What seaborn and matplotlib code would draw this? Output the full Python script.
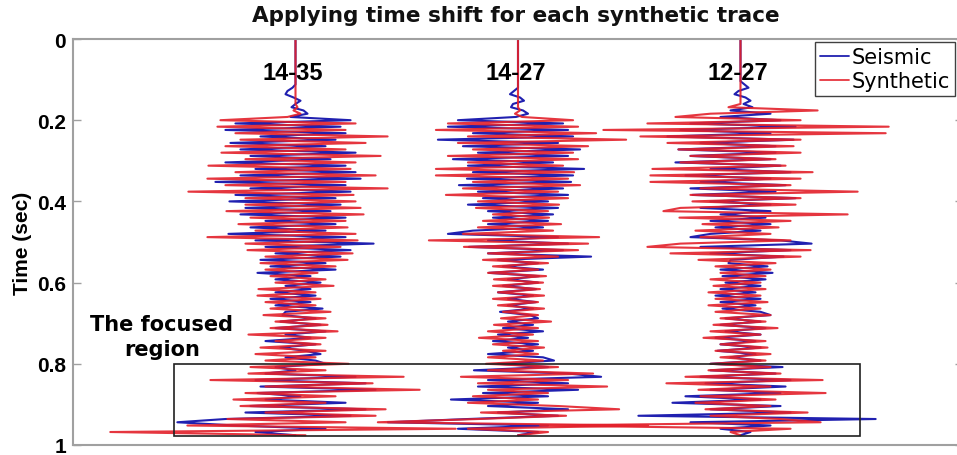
import numpy as np
import pandas as pd
import matplotlib
matplotlib.use("Agg")
import matplotlib.pyplot as plt
from matplotlib.patches import Rectangle
import seaborn as sns

# Well names of the three tie locations (left to right)
wells = ["14-35", "14-27", "12-27"]
series_names = ["Seismic", "Synthetic"]

# Regular sample grid: first sample time and interval (s)
t_start = 0.104
t_step = 0.008

# Trace amplitudes (arbitrary units), one value per sample
seismic_14_35 = [
    0, 0, -0.03, -0.08, -0.1, -0.02, 0.05, 0.0, -0.04, 0.08, 0.12, -0.05,
    0.55, -0.6, 0.45, -0.7, 0.5, -0.35, 0.4, -0.65, 0.3, -0.55, 0.6, -0.45, 0.35, -0.7, 0.5, -0.4,
    0.6, -0.55, 0.65, -0.8, 0.5, -0.45, 0.55, -0.6, 0.4, -0.66, 0.45, -0.5, 0.35, -0.55, 0.5, -0.3,
    0.4, -0.45, 0.3, -0.67, 0.5, -0.4, 0.78, -0.3, 0.55, -0.2, 0.45, -0.35,
    0.3, -0.25, 0.4, -0.38, 0.15, -0.2, 0.25, -0.1, 0.15, -0.2, 0.2, -0.25,
    0.15, -0.2, 0.27, -0.1, -0.13, 0.2, -0.15, 0.25, -0.2, 0.3, -0.1, 0.15, -0.3, 0.2, -0.15, 0.1, 0.25, -0.1, 0.2,
    0.3, -0.2, 0.0, -0.3, 0.6, -0.4, 0.7, -0.35, 0.8, -0.38, 0.05, -0.3, 0.5, -0.45, 0.7, -0.5, 0.55, -0.7, -1.18, -0.6, 0.3, -0.4, 0.0,
]
synthetic_14_35 = [
    0, 0, 0, 0, 0, 0, 0, 0, 0.02, -0.02, 0.05, -0.08,
    -0.75, 0.6, -0.78, 0.5, -0.6, 0.92, -0.55, 0.7, -0.7, 0.5, -0.74, 0.85, -0.5, 0.6, -0.87, 0.55,
    -0.6, 0.8, -0.88, 0.5, -0.7, 0.92, -1.07, 0.58, -0.5, 0.6, -0.5, 0.65, -0.69, 0.68, -0.45, 0.5,
    -0.57, 0.52, -0.4, 0.6, -0.88, 0.62, -0.5, 0.45, -0.48, 0.57, -0.3, 0.52,
    -0.35, 0.4, -0.3, 0.22, -0.25, 0.3, -0.2, 0.38, -0.37, 0.2, -0.38, 0.25,
    -0.3, 0.2, -0.25, 0.35, -0.32, 0.3, -0.2, 0.32, -0.25, 0.42, -0.47, 0.3, -0.2, 0.25, -0.35, 0.3, -0.4, 0.2, -0.3,
    0.53, -0.45, 0.3, -0.47, 1.08, -0.85, 0.77, -0.3, 1.24, -0.5, 0.4, -0.62, 0.3, -0.55, 0.9, -0.3, 0.8, -0.68, 0.5, -1.08, 1.6, -1.85, 0.1,
]
seismic_14_27 = [
    0, 0, 0, -0.04, -0.08, 0.02, 0.06, -0.05, -0.07, 0.05, 0.1, -0.02,
    -0.6, 0.45, -0.7, 0.5, -0.45, 0.55, -0.8, 0.4, -0.55, 0.62, -0.4, 0.5, -0.65, 0.35, -0.5, 0.66,
    -0.45, 0.55, -0.51, 0.53, -0.59, 0.45, -0.4, 0.5, -0.35, 0.3, -0.5, 0.4, -0.3, 0.35, -0.25, 0.3,
    -0.3, 0.25, -0.45, -0.7, 0.4, -0.3, 0.5, -0.49, 0.45, -0.3, 0.73, -0.2,
    0.2, -0.15, 0.25, -0.29, 0.21, -0.1, 0.2, -0.15, 0.18, -0.2, 0.15, -0.1,
    0.18, -0.1, 0.15, -0.18, 0.12, 0.2, -0.1, 0.15, -0.15, 0.25, -0.2, 0.1, -0.25, 0.2, -0.1, 0.15, -0.3, 0.25, 0.36,
    -0.2, 0.3, -0.44, 0.5, 0.83, -0.3, 0.5, -0.4, 0.6, -0.35, 0.3, -0.67, 0.2, -0.3, 0.5, -0.2, 0.4, -0.5, -1.3, 0.3, -0.6, 0.2, 0.0,
]
synthetic_14_27 = [
    0, 0, 0, 0, 0, 0, 0, 0, 0, 0.02, -0.03, 0.04,
    0.55, -0.7, 0.6, -0.82, 0.78, -0.5, 1.08, -0.6, 0.7, -0.45, 0.55, -0.7, 0.6, -0.5, 0.45, -0.82,
    0.56, -0.82, 0.5, -0.45, 0.62, -0.55, 0.4, -0.72, 0.5, -0.4, 0.41, -0.42, 0.3, -0.25, 0.31, -0.35,
    0.43, -0.4, 0.35, -0.55, 0.81, -0.89, 0.7, -0.54, 0.6, -0.3, 0.4, -0.35,
    0.3, -0.25, 0.2, -0.3, 0.28, -0.24, 0.25, -0.25, 0.22, -0.2, 0.26, -0.25,
    0.2, -0.2, 0.26, -0.15, 0.2, -0.17, 0.33, -0.24, 0.2, -0.3, 0.15, -0.39, 0.2, -0.25, 0.26, -0.15, 0.2, -0.3, 0.25,
    -0.32, 0.4, -0.3, 0.75, -0.57, 0.5, -0.4, 0.89, -0.3, 0.3, -0.45, 0.2, -0.5, 0.4, 1.01, -0.37, 0.48, -0.4, -1.4, 1.3, -0.5, 0.3, 0.0,
]
seismic_12_27 = [
    0, 0.04, 0.08, -0.02, -0.06, 0.05, 0.1, 0.03, 0.12, -0.1, 0.3, -0.2,
    0.4, -0.5, 0.55, -0.6, 0.3, -0.73, 0.53, -0.4, 0.35, -0.62, 0.35, -0.5, 0.3, -0.65, 0.4, -0.3,
    0.5, -0.55, 0.3, -0.4, 0.45, -0.5, 0.35, -0.48, 0.55, -0.3, 0.3, -0.4, 0.3, -0.2, 0.25, -0.3,
    0.3, -0.25, 0.2, -0.3, -0.5, 0.4, 0.71, -0.4, 0.5, -0.3, 0.43, -0.1,
    -0.12, 0.27, -0.2, 0.32, -0.18, 0.25, -0.15, 0.2, -0.2, 0.15, -0.25, 0.2,
    -0.2, 0.15, -0.18, 0.2, 0.3, -0.15, 0.2, -0.2, 0.25, -0.15, 0.2, -0.25, 0.15, -0.2, 0.2, -0.23, 0.15, -0.1, 0.2,
    -0.3, 0.42, -0.3, 0.35, -0.4, 0.5, -0.35, 0.45, -0.3, 0.4, -0.55, 0.2, -0.68, 0.4, -0.3, 0.5, -1.02, 1.35, -0.5, 0.3, -0.2, 0.1, 0.0,
]
synthetic_12_27 = [
    0, 0, 0, 0, 0, 0, 0, 0, -0.12, 0.77, -0.3, -0.65,
    0.6, -0.93, 1.48, -1.37, 1.45, -1.0, 0.6, -0.73, 0.53, -0.62, 0.6, -0.5, 0.35, -0.6, 0.45, -0.88,
    0.72, -0.9, 0.6, -0.9, 0.5, -0.4, 1.17, -0.5, 0.6, -0.48, 0.55, -0.6, -0.77, 1.07, -0.61, 0.5,
    -0.38, 0.38, -0.45, 0.3, -0.4, 0.5, -0.6, -0.93, 0.7, -0.7, 0.6, -0.42,
    0.35, -0.25, 0.3, -0.2, 0.25, -0.3, 0.2, -0.27, 0.25, -0.32, 0.2, -0.25,
    0.27, -0.32, 0.2, -0.25, 0.3, -0.2, 0.25, -0.27, 0.37, -0.3, 0.2, -0.37, 0.25, -0.2, 0.27, -0.25, 0.3, -0.2, 0.25,
    -0.3, 0.3, -0.32, 0.4, -0.55, 0.82, -0.74, 0.3, -0.42, 0.85, -0.4, 0.35, -0.45, 0.3, -0.35, 0.67, -0.3, 0.4, 0.8, -2.0, 0.5, -0.1, 0.0,
]

amplitudes = {
    ("14-35", "Seismic"): seismic_14_35, ("14-35", "Synthetic"): synthetic_14_35,
    ("14-27", "Seismic"): seismic_14_27, ("14-27", "Synthetic"): synthetic_14_27,
    ("12-27", "Seismic"): seismic_12_27, ("12-27", "Synthetic"): synthetic_12_27,
}

n = len(seismic_14_35)
times = np.concatenate([[0.0], np.round(t_start + t_step * np.arange(n), 3)])
GAIN = 0.45  # horizontal scaling of the wiggles (trace spacing = 1)

rows = []
for i, well in enumerate(wells):
    for s in series_names:
        amp = np.concatenate([[0.0], amplitudes[(well, s)]])
        rows.append(pd.DataFrame({"trace": well, "series": s, "time": times,
                                  "x": (i + 1) + GAIN * amp}))
df = pd.concat(rows, ignore_index=True)

sns.set_style("white")
plt.rcParams["font.family"] = ["DejaVu Sans"]
plt.rcParams["text.color"] = "black"
plt.rcParams["axes.labelcolor"] = "black"

BLUE = "#2020b0"
RED = "#e3202a"

fig = plt.figure(figsize=(9.57, 4.56), dpi=100)
ax = fig.add_axes([73 / 957, 10 / 456, 890 / 957, 406 / 456])

sns.lineplot(data=df, x="x", y="time", hue="series", units="trace",
             estimator=None, sort=False, hue_order=series_names,
             palette={"Seismic": BLUE, "Synthetic": RED},
             linewidth=1.5, ax=ax)
for ln in ax.lines:
    if ln.get_color() == RED:
        ln.set_alpha(0.9)

ax.set_xlim(0, 4)
ax.set_ylim(1, 0)
ax.set_xticks([])
ax.set_yticks([0, 0.2, 0.4, 0.6, 0.8, 1.0])
ax.set_yticklabels(["0", "0.2", "0.4", "0.6", "0.8", "1"])
ax.set_xlabel("")
ax.set_ylabel("Time (sec)", fontsize=15, fontweight="bold", family="Liberation Sans",
              color="black")
ax.yaxis.set_label_coords(-0.046, 0.5)

for sp in ax.spines.values():
    sp.set_visible(True)
    sp.set_color("#a0a0a0")
    sp.set_linewidth(1.5)
ax.tick_params(axis="y", direction="in", length=6, width=1, color="#a0a0a0",
               left=True, right=True, labelsize=15, pad=5, labelcolor="black")
for lab in ax.get_yticklabels():
    lab.set_fontfamily("Liberation Sans")
    lab.set_fontweight("bold")

# Well labels above each trace
for i, well in enumerate(wells):
    ax.text(i + 1 - 0.012, 0.083, well, ha="center", va="center", color="black",
            fontsize=17, fontweight="bold", family="Liberation Sans", zorder=5)

# Focus window around the deep reflections
ax.add_patch(Rectangle((0.454, 0.801), 3.083, 0.177, fill=False,
                       edgecolor="#202020", linewidth=1.2, zorder=6))
ax.text(0.40, 0.733, "The focused\nregion", ha="center", va="center", color="black",
        fontsize=15, fontweight="bold", linespacing=1.3)

fig.text(516 / 957, 1 - 16 / 456, "Applying time shift for each synthetic trace",
         ha="center", va="center", fontsize=15.5, fontweight="bold", color="#111111")

handles, labels = ax.get_legend_handles_labels()
leg = ax.legend(handles, labels, loc="upper right", bbox_to_anchor=(0.991, 0.993),
                borderaxespad=0, frameon=True, fancybox=False, framealpha=1,
                edgecolor="#404040", borderpad=0.25, handlelength=1.4,
                handletextpad=0.1, labelspacing=0.2, prop={"size": 15})
for h in leg.get_lines():
    h.set_linewidth(1.3)
for txt in leg.get_texts():
    txt.set_color("black")

fig.savefig("out.png", dpi=100)
